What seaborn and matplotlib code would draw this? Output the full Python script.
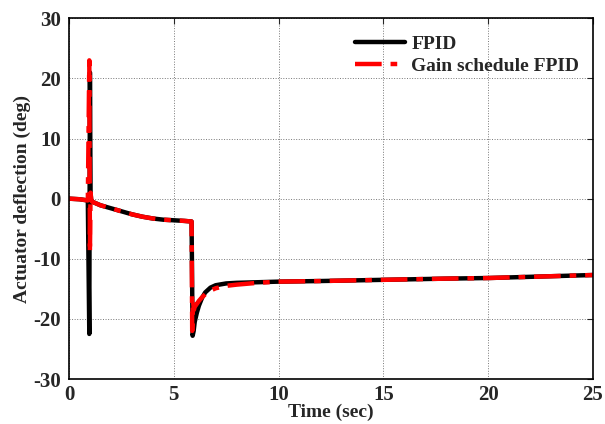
import matplotlib
matplotlib.use("Agg")
import matplotlib.pyplot as plt
import seaborn as sns
import pandas as pd

# FPID series (time in sec, deflection in deg)
t_fpid = [0, 0.5, 0.9, 0.97, 1.0, 1.03, 1.06, 1.1, 1.5, 2.0, 2.5, 3.0, 3.5, 4.0, 4.5, 5.0, 5.5, 5.85,
          5.9, 5.95, 6.0, 6.1, 6.2, 6.35, 6.5, 6.75, 7.0, 7.5, 8.0, 9.0, 10.0, 12.0, 15.0, 18.0, 20.0, 22.0, 25.0]
y_fpid = [0.0, -0.1, -0.3, -22.5, 21.0, 1.0, -0.2, -0.5, -1.1, -1.6, -2.1, -2.6, -3.0, -3.3, -3.5, -3.6, -3.7, -3.8,
          -22.8, -22.0, -20.5, -19.0, -17.8, -16.5, -15.6, -14.8, -14.4, -14.1, -14.0, -13.9, -13.8, -13.7, -13.5, -13.3, -13.2, -13.0, -12.7]

# Gain schedule FPID series
t_gs = [0, 0.5, 0.9, 0.97, 1.0, 1.03, 1.06, 1.1, 1.5, 2.0, 2.5, 3.0, 3.5, 4.0, 4.5, 5.0, 5.5, 5.85,
        5.88, 5.92, 5.96, 6.0, 6.1, 6.2, 6.35, 6.5, 6.75, 7.0, 7.5, 8.0, 9.0, 10.0, 12.0, 15.0, 18.0, 20.0, 22.0, 25.0]
y_gs = [0.0, -0.1, -0.3, 23.0, -9.0, 1.0, -0.2, -0.5, -1.1, -1.6, -2.1, -2.6, -3.0, -3.3, -3.5, -3.6, -3.7, -3.8,
        -22.0, -17.0, -18.5, -18.0, -17.5, -17.0, -16.4, -15.9, -15.3, -14.9, -14.5, -14.3, -14.0, -13.8, -13.7, -13.5, -13.3, -13.2, -13.0, -12.7]

x_ticks = [0, 5, 10, 15, 20, 25]
y_ticks = [-30, -20, -10, 0, 10, 20, 30]

sns.set_style("white")
plt.rcParams["font.family"] = ["Liberation Serif", "DejaVu Serif"]
plt.rcParams["font.weight"] = "bold"
plt.rcParams["axes.unicode_minus"] = False

df1 = pd.DataFrame({"t": t_fpid, "y": y_fpid})
df2 = pd.DataFrame({"t": t_gs, "y": y_gs})

fig, ax = plt.subplots(figsize=(6.05, 4.24), dpi=100)
fig.subplots_adjust(left=0.114, right=0.980, top=0.957, bottom=0.106)

sns.lineplot(data=df1, x="t", y="y", ax=ax, color="black", linewidth=3.2,
             sort=False, estimator=None, label="FPID")
sns.lineplot(data=df2, x="t", y="y", ax=ax, color="red", linewidth=3.2,
             sort=False, estimator=None, label="Gain schedule FPID")
ax.lines[1].set_dashes([6, 2, 1.5, 2])

ax.set_xlim(0, 25)
ax.set_ylim(-30, 30)
ax.set_xticks(x_ticks)
ax.set_yticks(y_ticks)
ax.grid(True, color="#777777", linestyle=":", linewidth=0.7)
ax.tick_params(direction="in", top=True, right=True, length=4, labelsize=15, width=0.8)
ax.tick_params(axis="x", pad=4)
ax.tick_params(axis="y", pad=6)
for lab in ax.get_xticklabels() + ax.get_yticklabels():
    lab.set_fontweight("bold")
for s in ax.spines.values():
    s.set_linewidth(1.2)
    s.set_color("black")

ax.set_xlabel("Time (sec)", fontsize=14, fontweight="bold", labelpad=-1)
ax.set_ylabel("Actuator deflection (deg)", fontsize=14, fontweight="bold", labelpad=1)

leg = ax.legend(loc="upper right", frameon=False, fontsize=14, handlelength=2.6,
                borderaxespad=0.3, labelspacing=0.2, handletextpad=0.3,
                bbox_to_anchor=(1.0, 0.99))
for txt in leg.get_texts():
    txt.set_fontweight("bold")

fig.savefig("out.png", dpi=100)
